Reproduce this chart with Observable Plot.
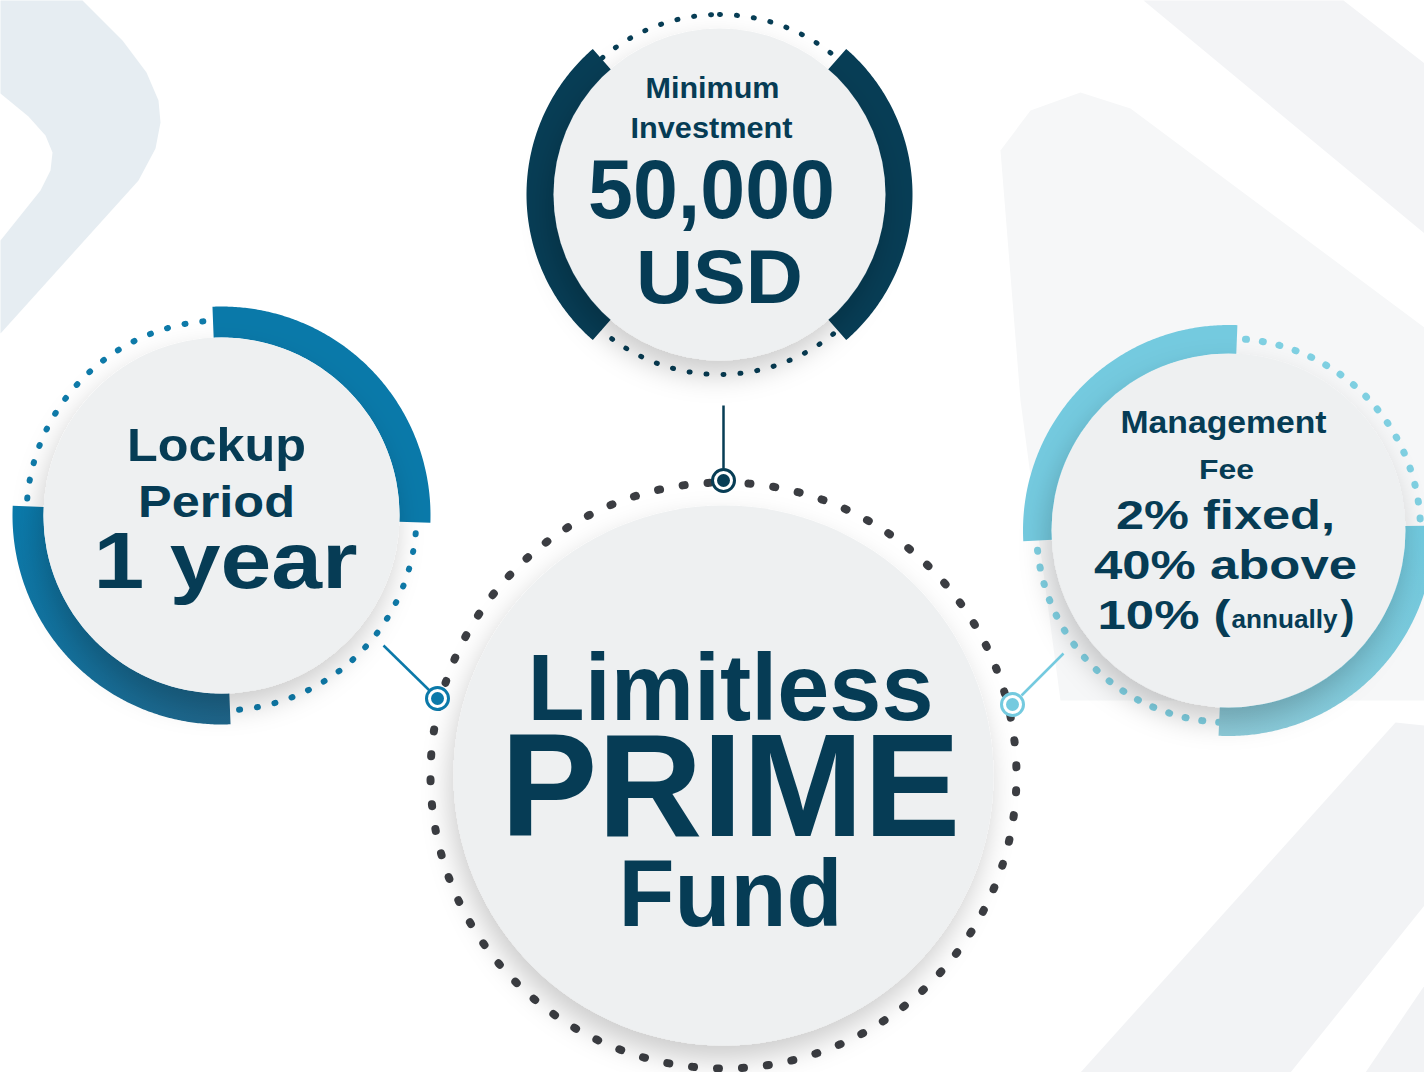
<!DOCTYPE html>
<html>
<head>
<meta charset="utf-8">
<script src="https://cdn.jsdelivr.net/npm/d3@7"></script>
<script src="https://cdn.jsdelivr.net/npm/@observablehq/plot@0.6"></script>
<style>
html,body{margin:0;padding:0;background:#fff;overflow:hidden}
#chart svg{display:block}
</style>
</head>
<body>
<div id="chart"></div>
<script>
// ---------------- data ----------------
const blocks = ["Minimum Investment", "Lockup Period", "Management Fee", "Limitless PRIME Fund"];
// solid arc spans, degrees clockwise from 12 o'clock
const arcBlock = [0, 0, 1, 1, 2, 2];
const arcStart = [221, 41, -2.5, 177.5, -93, 88.6];
const arcEnd   = [319, 139, 92, 272.7, 2.5, 182.8];

// text lines
const labelText = ["Minimum", "Investment", "50,000", "USD",
                   "Lockup", "Period", "1 year",
                   "Management", "Fee", "2% fixed,", "40% above",
                   "Limitless", "PRIME", "Fund"];
const mixedText = ["10% (", "annually", ")"];

// ---------------- layout / styles ----------------
const W = 1424, H = 1072;
const navy = "#063c55";
const centers = [[719, 194], [221, 515], [1228, 530], [723, 775]];
const discR   = [166, 178, 177, 270];
const arcR    = [179, 193.5, 191, 0];
const arcW    = [28, 31, 29, 0];
const ringR   = [180, 195, 192, 293];
const ringColor = ["#073d55", "#0e7aa9", "#7fd0e2", "#3b3d42"];
const ringWidth = [5, 6, 7, 8];
const ringDash  = ["1 16", "1 17", "1 16", "2 23"];
const arcColor  = ["#073d55", "#073d55", "#0a79a9", "#0b77a7", "#74cadf", "#75c9dd"];

const labelLayout = [
  {x: 712, y: 97,  s: 30, w: 134}, {x: 711, y: 137, s: 30, w: 162},
  {x: 711, y: 217, s: 84, w: 247}, {x: 719, y: 302, s: 76, w: 167},
  {x: 216, y: 460, s: 47, w: 179}, {x: 216, y: 516, s: 45, w: 157},
  {x: 225, y: 587, s: 80, w: 264},
  {x: 1223, y: 432, s: 31, w: 206}, {x: 1226, y: 478, s: 27, w: 55},
  {x: 1225, y: 528, s: 40, w: 219}, {x: 1225, y: 578, s: 40, w: 263},
  {x: 730, y: 719, s: 94, w: 406}, {x: 730, y: 835, s: 147, w: 460},
  {x: 730, y: 925, s: 95, w: 224}
];
const mixedLayout = [
  {x: 1097, y: 628, s: 40, w: 133}, {x: 1231, y: 627, s: 25, w: 106}, {x: 1340, y: 628, s: 40, w: 14}
];

const connectors = [
  {x1: 723, y1: 405, x2: 723, y2: 468, c: "#073d55"},
  {x1: 383, y1: 645, x2: 429, y2: 690, c: "#0b79a9"},
  {x1: 1063, y1: 653, x2: 1021, y2: 695, c: "#74cadf"}
];
const markers = [
  {x: 723, y: 480, c: "#073d55"},
  {x: 437, y: 698, c: "#0b79a9"},
  {x: 1012, y: 704, c: "#74cadf"}
];

const bgShapes = [
  {color: "#e6edf2", pts: [[0,0],[82,0],[122,40],[146,72],[158,100],[160,122],[155,148],[138,180],[0,333],[0,240],[40,190],[50,170],[52,152],[45,135],[28,116],[0,93]]},
  {color: "#f3f4f6", pts: [[1143,0],[1343,0],[1424,63],[1424,233]]},
  {color: "#f6f7f8", pts: [[1000,150],[1030,110],[1080,92],[1130,108],[1424,327],[1424,700],[1060,700],[1020,400]]},
  {color: "#f2f3f5", pts: [[1395,722],[1424,725],[1424,905],[1290,1072],[1080,1072]]},
  {color: "#f2f3f5", pts: [[1424,985],[1424,1072],[1365,1072]]}
];

// ---------------- geometry helpers ----------------
function arcPts(cx, cy, r, a0, a1, step = 0.5) {
  const n = Math.max(2, Math.ceil(Math.abs(a1 - a0) / step) + 1);
  const pts = [];
  for (let i = 0; i < n; i++) {
    const a = (a0 + (a1 - a0) * i / (n - 1)) * Math.PI / 180;
    pts.push({x: cx + r * Math.sin(a), y: cy - r * Math.cos(a)});
  }
  return pts;
}

const marks = [];
// background decoration
bgShapes.forEach(s => marks.push(
  Plot.line(s.pts, {x: d => d[0], y: d => d[1], fill: s.color, stroke: "none", curve: "linear-closed"})
));
// dotted rings
blocks.forEach((b, i) => marks.push(
  Plot.line(arcPts(centers[i][0], centers[i][1], ringR[i], 0, 360), {
    x: "x", y: "y", stroke: ringColor[i], strokeWidth: ringWidth[i],
    strokeDasharray: ringDash[i], strokeLinecap: "round"
  })
));
// solid arcs
arcStart.forEach((a0, k) => {
  const i = arcBlock[k];
  marks.push(Plot.line(arcPts(centers[i][0], centers[i][1], arcR[i], a0, arcEnd[k]), {
    x: "x", y: "y", stroke: arcColor[k], strokeWidth: arcW[i], strokeLinecap: "butt"
  }));
});
// discs
marks.push(Plot.dot(blocks.map((b, i) => ({b, x: centers[i][0], y: centers[i][1], r: discR[i]})), {
  x: "x", y: "y", r: "r", fill: "#eef0f1", stroke: "none"
}));
// connectors
marks.push(Plot.link(connectors, {x1: "x1", y1: "y1", x2: "x2", y2: "y2", stroke: "c", strokeWidth: 2.5}));
marks.push(Plot.dot(markers, {x: "x", y: "y", r: 11, fill: "white", stroke: "c", strokeWidth: 3}));
marks.push(Plot.dot(markers, {x: "x", y: "y", r: 6.5, fill: "c", stroke: "none"}));
// text
marks.push(Plot.text(labelText.map((t, i) => ({t, ...labelLayout[i]})), {
  x: "x", y: "y", text: "t", fontSize: d => d.s, fontWeight: "bold", fill: navy,
  textAnchor: "middle", lineAnchor: "bottom"
}));
marks.push(Plot.text(mixedText.map((t, i) => ({t, ...mixedLayout[i]})), {
  x: "x", y: "y", text: "t", fontSize: d => d.s, fontWeight: "bold", fill: navy,
  textAnchor: "start", lineAnchor: "bottom"
}));

const svg = Plot.plot({
  width: W, height: H, margin: 0,
  x: {domain: [0, W], range: [0, W], axis: null},
  y: {domain: [0, H], range: [0, H], axis: null},
  r: {type: "identity"},
  color: {type: "identity"},
  style: {background: "#ffffff", fontFamily: "'Liberation Sans', Arial, Helvetica, sans-serif", overflow: "hidden"},
  marks
});
document.getElementById("chart").appendChild(svg);

// ---------------- finishing: shadows, gradients, text widths ----------------
const root = d3.select(svg);
const defs = root.insert("defs", ":first-child");
const f = defs.append("filter").attr("id", "discShadow")
  .attr("x", "-30%").attr("y", "-30%").attr("width", "160%").attr("height", "170%");
f.append("feDropShadow").attr("dx", -4).attr("dy", 14).attr("stdDeviation", 14)
  .attr("flood-color", "#000").attr("flood-opacity", 0.2);
const gL = defs.append("linearGradient").attr("id", "gLeft").attr("gradientUnits", "userSpaceOnUse")
  .attr("x1", 12).attr("y1", 505).attr("x2", 232).attr("y2", 722);
gL.append("stop").attr("offset", 0).attr("stop-color", "#0a7aab");
gL.append("stop").attr("offset", 1).attr("stop-color", "#1f6488");
const gR = defs.append("linearGradient").attr("id", "gRight").attr("gradientUnits", "userSpaceOnUse")
  .attr("x1", 1424).attr("y1", 525).attr("x2", 1218).attr("y2", 740);
gR.append("stop").attr("offset", 0).attr("stop-color", "#70c9de");
gR.append("stop").attr("offset", 1).attr("stop-color", "#8ecbd9");

root.selectAll('g[fill="#eef0f1"] circle').attr("filter", "url(#discShadow)");
root.selectAll('g[stroke="#0b77a7"] path').attr("stroke", "url(#gLeft)");
root.selectAll('g[stroke="#75c9dd"] path').attr("stroke", "url(#gRight)");

const textGroups = svg.querySelectorAll('g[aria-label="text"]');
const layouts = [labelLayout, mixedLayout];
textGroups.forEach((g, gi) => {
  g.querySelectorAll("text").forEach((t, i) => {
    const L = layouts[gi] && layouts[gi][i];
    if (L) { t.setAttribute("textLength", L.w); t.setAttribute("lengthAdjust", "spacingAndGlyphs"); }
  });
});
</script>
</body>
</html>
